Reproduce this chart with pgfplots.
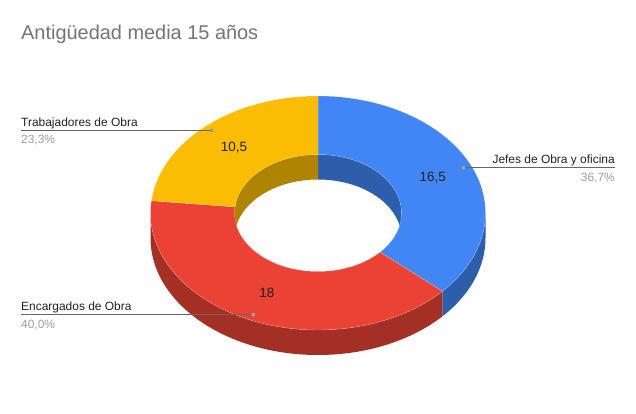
\documentclass[border=0pt]{standalone}
\usepackage{pgfplots}
\usepackage{pgfplotstable}
\pgfplotsset{compat=1.18}
\usepackage{fontspec}
\setmainfont{Liberation Sans}
\pgfkeys{/pgf/number format/assume math mode=true}

\definecolor{cBlue}{HTML}{4285F4}
\definecolor{cBlueD}{HTML}{2E5DAB}
\definecolor{cRed}{HTML}{EA4335}
\definecolor{cRedD}{HTML}{A42F25}
\definecolor{cYel}{HTML}{FBBC04}
\definecolor{cYelD}{HTML}{B08403}
\definecolor{titlegray}{HTML}{757575}
\definecolor{pctgray}{HTML}{9E9E9E}
\definecolor{linegray}{HTML}{666666}
\definecolor{dotgray}{HTML}{9E9E9E}
\definecolor{txt}{HTML}{222222}

% antiguedad media por grupo
\pgfplotstableread{
value
16.5
18
10.5
}\slices

% geometry, in pixels of the 636x414 picture (y counted upwards)
\def\cx{318}\def\cy{201}
\def\rx{167.5}\def\ry{117}
\def\ix{83.5}\def\iy{58.5}
\def\dep{25}

% top face of one slice: colour, start angle, end angle
\newcommand\topface[3]{%
  \fill[#1, draw=white, draw opacity=0.35, line width=0.4bp]
    (axis cs:{\cx+\rx*cos(#2)},{\cy+\ry*sin(#2)})
    arc[start angle=#2, end angle=#3, x radius=\rx bp, y radius=\ry bp]
    -- (axis cs:{\cx+\ix*cos(#3)},{\cy+\iy*sin(#3)})
    arc[start angle=#3, end angle=#2, x radius=\ix bp, y radius=\iy bp]
    -- cycle;}
% side wall between two angles: colour, hi, lo, x radius, y radius
\newcommand\wall[5]{%
  \fill[#1]
    (axis cs:{\cx+#4*cos(#2)},{\cy+#5*sin(#2)})
    arc[start angle=#2, end angle=#3, x radius=#4 bp, y radius=#5 bp]
    -- ++(0,-\dep bp)
    arc[start angle=#3, end angle=#2, x radius=#4 bp, y radius=#5 bp]
    -- cycle;}

\begin{document}
\begin{tikzpicture}
\pgfplotstablegetelem{0}{value}\of\slices \let\vA\pgfplotsretval
\pgfplotstablegetelem{1}{value}\of\slices \let\vB\pgfplotsretval
\pgfplotstablegetelem{2}{value}\of\slices \let\vC\pgfplotsretval
\pgfmathsetmacro\tot{\vA+\vB+\vC}
\pgfmathsetmacro\pA{100*\vA/\tot}
\pgfmathsetmacro\pB{100*\vB/\tot}
\pgfmathsetmacro\pC{100*\vC/\tot}
% angles, clockwise from 12 o'clock
\pgfmathsetmacro\sA{90}
\pgfmathsetmacro\eA{\sA-360*\vA/\tot}
\pgfmathsetmacro\eB{\eA-360*\vB/\tot}
\pgfmathsetmacro\eC{\eB-360*\vC/\tot}
\pgfmathsetmacro\mA{(\sA+\eA)/2}
\pgfmathsetmacro\mB{(\eA+\eB)/2}
\pgfmathsetmacro\mC{(\eB+\eC)/2}
% visible part of the outer wall (front half)
\pgfmathsetmacro\oAh{min(\sA,0)}\pgfmathsetmacro\oAl{min(max(\eA,-180),\oAh)}
\pgfmathsetmacro\oBh{min(\eA,0)}\pgfmathsetmacro\oBl{min(max(\eB,-180),\oBh)}
\pgfmathsetmacro\oCh{min(\eB,0)}\pgfmathsetmacro\oCl{min(max(\eC,-180),\oCh)}
% visible part of the inner wall (back half)
\pgfmathsetmacro\iAh{min(\sA,90)}\pgfmathsetmacro\iAl{min(max(\eA,0),\iAh)}
\pgfmathsetmacro\iBh{min(\eA,90)}\pgfmathsetmacro\iBl{min(max(\eB,0),\iBh)}
\pgfmathsetmacro\iCh{min(\eB,90)}\pgfmathsetmacro\iCl{min(max(\eC,0),\iCh)}
\pgfmathsetmacro\jAh{min(\sA,-180)}\pgfmathsetmacro\jAl{min(max(\eA,-270),\jAh)}
\pgfmathsetmacro\jBh{min(\eA,-180)}\pgfmathsetmacro\jBl{min(max(\eB,-270),\jBh)}
\pgfmathsetmacro\jCh{min(\eB,-180)}\pgfmathsetmacro\jCl{min(max(\eC,-270),\jCh)}
% leader line heights
\pgfmathsetmacro\yA{\cy+0.95*\ry*sin(\mA)}
\pgfmathsetmacro\yB{\cy+0.95*\ry*sin(\mB)}
\pgfmathsetmacro\yC{\cy+0.95*\ry*sin(\mC)}

\begin{axis}[
  scale only axis, width=636bp, height=414bp,
  xmin=0, xmax=636, ymin=0, ymax=414,
  hide axis, clip=false,
]
\fill[white] (axis cs:0,0) rectangle (axis cs:636,414);

% inner walls seen through the hole
\wall{cBlueD}{\iAh}{\iAl}{\ix}{\iy}
\wall{cRedD}{\iBh}{\iBl}{\ix}{\iy}
\wall{cYelD}{\iCh}{\iCl}{\ix}{\iy}
\wall{cBlueD}{\jAh}{\jAl}{\ix}{\iy}
\wall{cRedD}{\jBh}{\jBl}{\ix}{\iy}
\wall{cYelD}{\jCh}{\jCl}{\ix}{\iy}
% outer walls in front
\wall{cBlueD}{\oAh}{\oAl}{\rx}{\ry}
\wall{cRedD}{\oBh}{\oBl}{\rx}{\ry}
\wall{cYelD}{\oCh}{\oCl}{\rx}{\ry}
% top faces
\topface{cBlue}{\sA}{\eA}
\topface{cRed}{\eA}{\eB}
\topface{cYel}{\eB}{\eC}

% values on the slices
\node[txt, font=\fontsize{13.5}{16}\selectfont] at (axis cs:{\cx+0.75*\rx*cos(\mA)},{\cy+0.75*\ry*sin(\mA)})
  {\pgfmathprintnumber[use comma,fixed,precision=1]{\vA}};
\node[txt, font=\fontsize{13.5}{16}\selectfont] at (axis cs:{\cx+0.75*\rx*cos(\mB)},{\cy+0.75*\ry*sin(\mB)})
  {\pgfmathprintnumber[use comma,fixed,precision=1]{\vB}};
\node[txt, font=\fontsize{13.5}{16}\selectfont] at (axis cs:{\cx+0.75*\rx*cos(\mC)},{\cy+0.75*\ry*sin(\mC)})
  {\pgfmathprintnumber[use comma,fixed,precision=1]{\vC}};

% leader lines
\draw[linegray, line width=0.9bp] (axis cs:{\cx+0.95*\rx*cos(\mA)},\yA) -- (axis cs:615,\yA);
\draw[linegray, line width=0.9bp] (axis cs:{\cx+0.95*\rx*cos(\mB)},\yB) -- (axis cs:21,\yB);
\draw[linegray, line width=0.9bp] (axis cs:{\cx+0.95*\rx*cos(\mC)},\yC) -- (axis cs:21,\yC);
\fill[dotgray] (axis cs:{\cx+0.95*\rx*cos(\mA)},\yA) circle[radius=2bp];
\fill[dotgray] (axis cs:{\cx+0.95*\rx*cos(\mB)},\yB) circle[radius=2bp];
\fill[dotgray] (axis cs:{\cx+0.95*\rx*cos(\mC)},\yC) circle[radius=2bp];

% legend texts
\begin{scope}[every node/.style={inner sep=0pt, font=\fontsize{12}{14}\selectfont}]
\node[txt, anchor=base east] at (axis cs:615,{\yA+4}) {Jefes de Obra y oficina};
\node[pctgray, anchor=base east] at (axis cs:615,{\yA-13.5})
  {\pgfmathprintnumber[use comma,fixed,fixed zerofill,precision=1]{\pA}\%};
\node[txt, anchor=base west] at (axis cs:21,{\yB+4}) {Encargados de Obra};
\node[pctgray, anchor=base west] at (axis cs:21,{\yB-13.5})
  {\pgfmathprintnumber[use comma,fixed,fixed zerofill,precision=1]{\pB}\%};
\node[txt, anchor=base west] at (axis cs:21,{\yC+4}) {Trabajadores de Obra};
\node[pctgray, anchor=base west] at (axis cs:21,{\yC-13.5})
  {\pgfmathprintnumber[use comma,fixed,fixed zerofill,precision=1]{\pC}\%};
\end{scope}

% title
\node[titlegray, anchor=base west, inner sep=0pt, font=\fontsize{20}{24}\selectfont]
  at (axis cs:21,374) {Antigüedad media 15 años};
\end{axis}
\end{tikzpicture}
\end{document}
